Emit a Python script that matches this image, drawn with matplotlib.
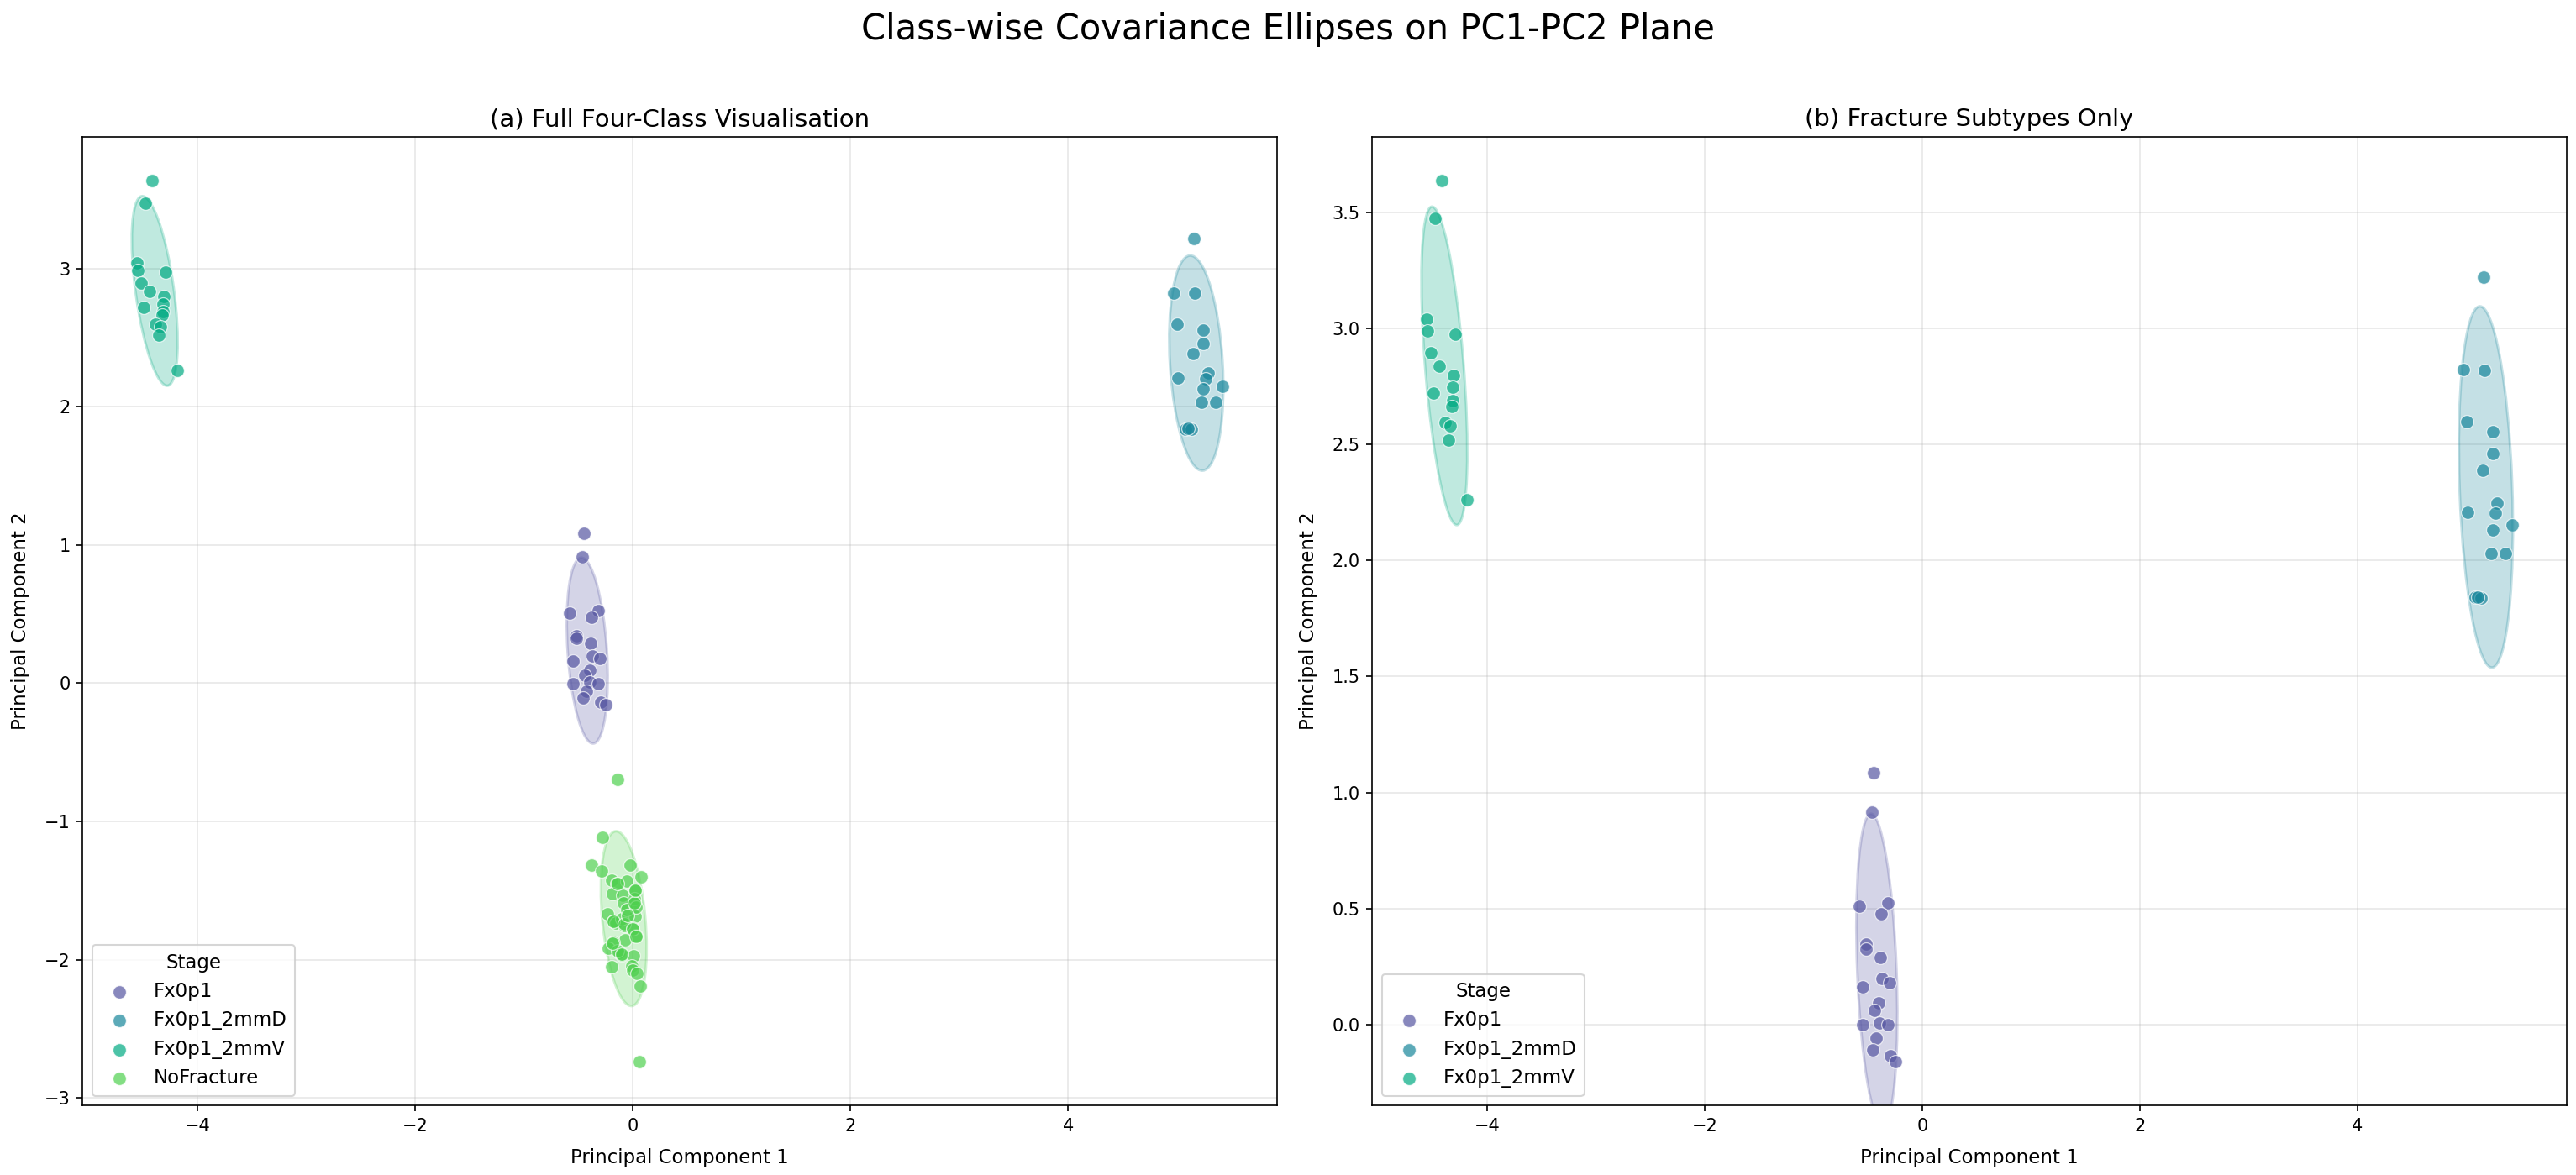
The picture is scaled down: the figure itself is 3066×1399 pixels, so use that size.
import numpy as np
import matplotlib
matplotlib.use("Agg")
import matplotlib.pyplot as plt
from matplotlib.patches import Ellipse

# ---------------- data ----------------
classes = ["Fx0p1", "Fx0p1_2mmD", "Fx0p1_2mmV", "NoFracture"]
colors = ["#5656a2", "#17869b", "#00aa82", "#4fd04f"]

fx0p1_x = [-0.453, -0.466, -0.580, -0.319, -0.381, -0.517, -0.517, -0.386, -0.371, -0.304,
           -0.551, -0.400, -0.445, -0.553, -0.396, -0.319, -0.430, -0.461, -0.299, -0.250]
fx0p1_y = [1.085, 0.916, 0.509, 0.525, 0.479, 0.346, 0.325, 0.290, 0.200, 0.182,
           0.163, 0.093, 0.060, -0.001, 0.008, -0.001, -0.057, -0.109, -0.134, -0.158]

d2mm_x = [5.156, 4.971, 5.164, 5.001, 5.241, 5.239, 5.151, 5.285, 5.265, 5.007,
          5.421, 5.239, 5.228, 5.357, 5.079, 5.135, 5.100]
d2mm_y = [3.219, 2.824, 2.820, 2.598, 2.553, 2.459, 2.387, 2.247, 2.202, 2.206,
          2.151, 2.131, 2.030, 2.030, 1.841, 1.839, 1.842]

v2mm_x = [-4.420, -4.480, -4.560, -4.550, -4.300, -4.520, -4.445, -4.310, -4.320, -4.500,
          -4.320, -4.330, -4.390, -4.340, -4.355, -4.190]
v2mm_y = [3.636, 3.473, 3.040, 2.988, 2.975, 2.895, 2.837, 2.797, 2.746, 2.720,
          2.687, 2.663, 2.596, 2.580, 2.518, 2.261]

nofr_x = [-0.141, -0.277, -0.377, -0.285, -0.025, 0.072, -0.192, -0.146, -0.058, 0.021,
          -0.190, -0.097, -0.084, 0.013, 0.021, -0.231, -0.179, -0.154, -0.077, 0.000,
          0.026, -0.072, -0.179, -0.226, -0.123, -0.100, 0.005, -0.192, -0.013, 0.000,
          0.039, 0.064, 0.059, -0.103, -0.142, 0.013, -0.060, 0.030,
          -0.180, -0.080, 0.010, 0.020, -0.140, -0.100, 0.000, -0.190, -0.050, 0.030]
nofr_y = [-0.698, -1.117, -1.318, -1.358, -1.318, -1.403, -1.423, -1.447, -1.433, -1.500,
          -1.520, -1.534, -1.590, -1.588, -1.685, -1.669, -1.725, -1.735, -1.755, -1.771,
          -1.826, -1.856, -1.876, -1.916, -1.946, -1.966, -1.972, -2.052, -2.046, -2.077,
          -2.101, -2.188, -2.735, -1.705, -1.937, -1.560, -1.640, -1.620,
          -1.725, -1.740, -1.590, -1.500, -1.450, -1.960, -1.780, -1.880, -1.680, -1.830]

data = {
    "Fx0p1": (fx0p1_x, fx0p1_y),
    "Fx0p1_2mmD": (d2mm_x, d2mm_y),
    "Fx0p1_2mmV": (v2mm_x, v2mm_y),
    "NoFracture": (nofr_x, nofr_y),
}
color_map = dict(zip(classes, colors))

suptitle = "Class-wise Covariance Ellipses on PC1-PC2 Plane"
titles = ["(a) Full Four-Class Visualisation", "(b) Fracture Subtypes Only"]
panel_classes = [classes, classes[:3]]


def cov_ellipse(ax, x, y, color, n_std=2.0):
    x = np.asarray(x)
    y = np.asarray(y)
    cov = np.cov(x, y)
    vals, vecs = np.linalg.eigh(cov)
    order = vals.argsort()[::-1]
    vals, vecs = vals[order], vecs[:, order]
    angle = np.degrees(np.arctan2(vecs[1, 0], vecs[0, 0]))
    w, h = 2 * n_std * np.sqrt(vals)
    e = Ellipse((x.mean(), y.mean()), w, h, angle=angle,
                facecolor=color, edgecolor=color, alpha=0.25, lw=1.5, zorder=1)
    ax.add_artist(e)


fig, axes = plt.subplots(1, 2, figsize=(3066 / 150, 1399 / 150), dpi=150)
fig.subplots_adjust(left=0.03206, right=0.99632, bottom=0.05933, top=0.8837, wspace=0.0798)

for ax, title, cls_list in zip(axes, titles, panel_classes):
    for c in cls_list:
        x, y = data[c]
        ax.scatter(x, y, s=58, color=color_map[c], alpha=0.7, edgecolor="white",
                   linewidth=0.6, label=c, zorder=3)
    for c in cls_list:
        x, y = data[c]
        cov_ellipse(ax, x, y, color_map[c])
    ax.set_title(title, fontsize=14)
    ax.set_xlabel("Principal Component 1", fontsize=11, labelpad=8)
    ax.set_ylabel("Principal Component 2", fontsize=11, labelpad=8)
    ax.grid(True, alpha=0.3)
    ax.set_axisbelow(True)
    ax.legend(title="Stage", loc="lower left", fontsize=11, title_fontsize=11)

fig.suptitle(suptitle, fontsize=20, y=0.99)
fig.savefig("out.png", dpi=150)
